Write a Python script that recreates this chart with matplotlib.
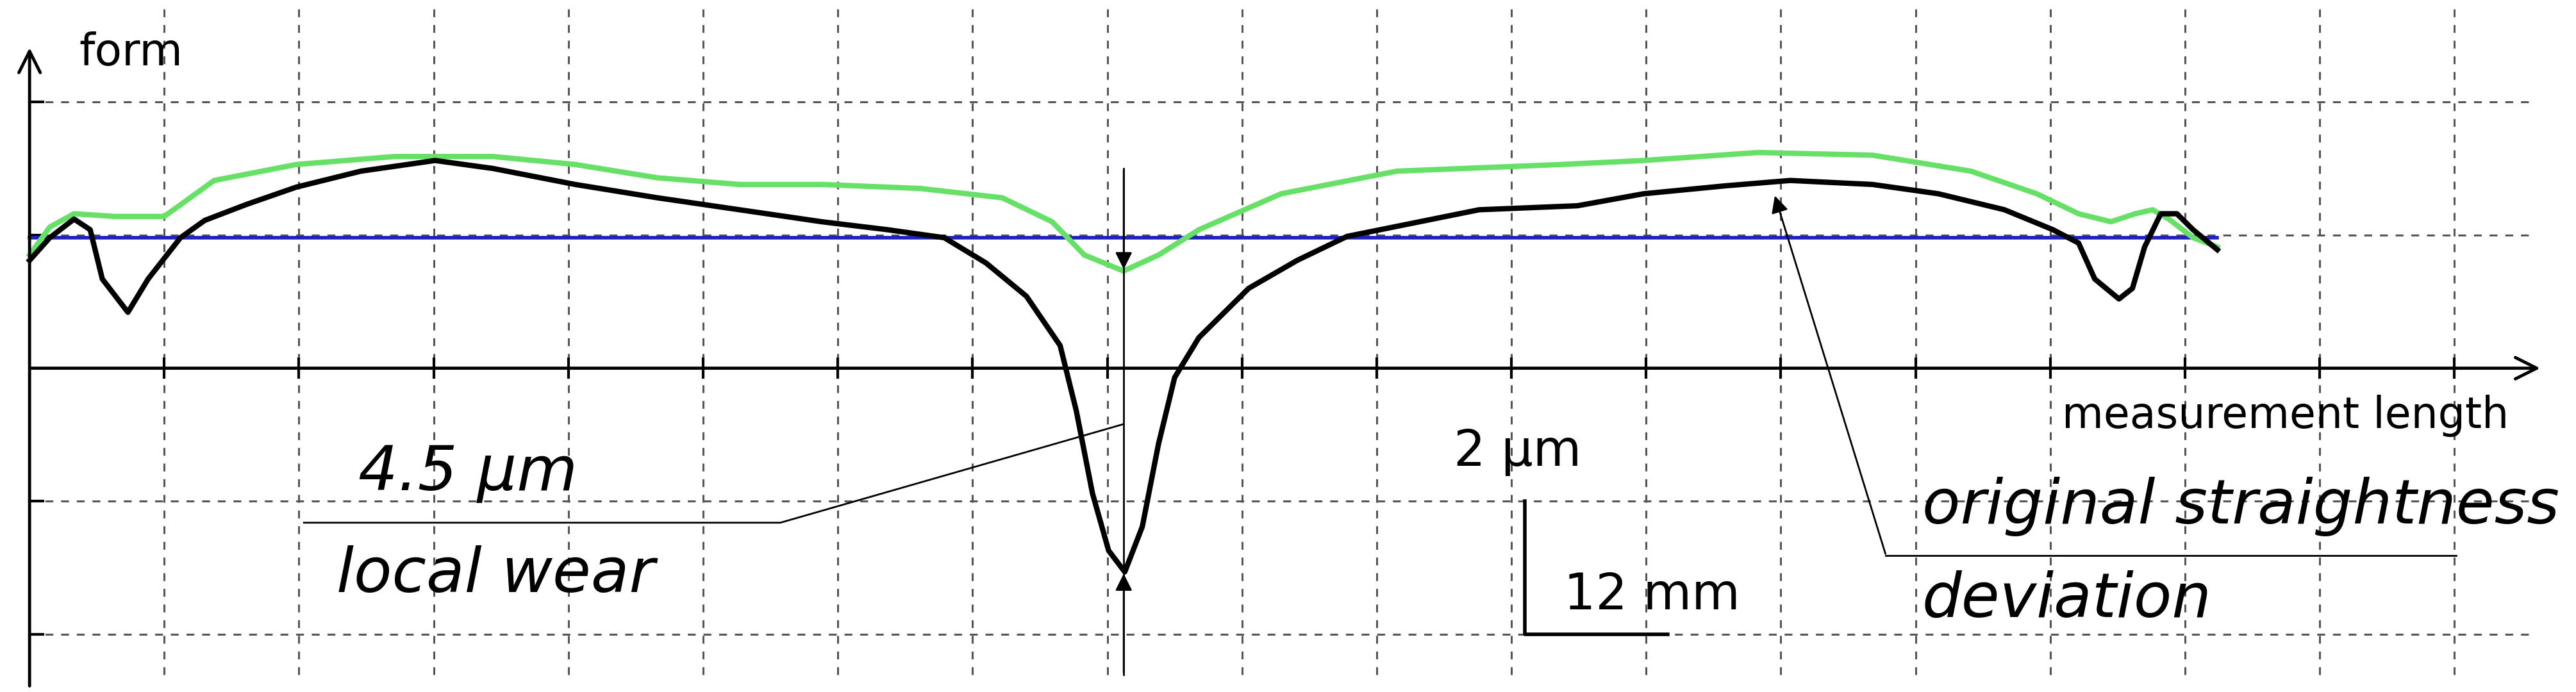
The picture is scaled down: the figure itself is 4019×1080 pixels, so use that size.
import matplotlib.pyplot as plt
import numpy as np

# values in grid units (1 unit = one dashed grid cell; x axis at y=0)
black_x = [0, 0.15, 0.33, 0.45, 0.54, 0.73, 0.88, 1.12, 1.3, 1.61, 1.98, 2.46, 3.01, 3.44, 4.05, 4.66,
           5.27, 5.88, 6.37, 6.79, 7.1, 7.4, 7.65, 7.77, 7.89, 8.01, 8.13, 8.26, 8.38, 8.5, 8.68,
           9.05, 9.41, 9.78, 10.27, 10.76, 11.49, 11.98, 12.59, 13.07, 13.68, 14.17, 14.66, 15.02,
           15.21, 15.33, 15.51, 15.61, 15.7, 15.82, 15.94, 16.06, 16.24]
black_y = [0.81, 0.98, 1.12, 1.04, 0.67, 0.42, 0.67, 0.98, 1.11, 1.23, 1.36, 1.48, 1.56, 1.5, 1.38, 1.28,
           1.19, 1.1, 1.04, 0.98, 0.79, 0.54, 0.17, -0.32, -0.94, -1.37, -1.53, -1.19, -0.57, -0.07, 0.23,
           0.6, 0.81, 0.99, 1.09, 1.19, 1.22, 1.31, 1.37, 1.41, 1.38, 1.31, 1.19, 1.04,
           0.94, 0.67, 0.52, 0.6, 0.91, 1.16, 1.16, 1.04, 0.89]
green_x = [0, 0.15, 0.33, 0.63, 1.0, 1.37, 1.98, 2.71, 3.44, 4.05, 4.66, 5.27, 5.88, 6.61, 7.22, 7.59,
           7.83, 8.12, 8.38, 8.68, 9.29, 10.15, 11.37, 11.98, 12.83, 13.68, 14.41, 14.9, 15.21, 15.45,
           15.63, 15.76, 15.88, 16.06, 16.24]
green_y = [0.85, 1.06, 1.16, 1.14, 1.14, 1.41, 1.53, 1.59, 1.59, 1.53, 1.43, 1.38, 1.38, 1.35, 1.28, 1.1,
           0.85, 0.73, 0.85, 1.04, 1.31, 1.48, 1.53, 1.56, 1.62, 1.6, 1.48, 1.31, 1.16, 1.1,
           1.16, 1.19, 1.12, 0.98, 0.91]
ref_level = 0.98

ITAL = dict(fontsize=70, style='italic', family=['Liberation Sans Narrow', 'DejaVu Sans'], va='center')

fig = plt.figure(figsize=(40.19, 10.8), dpi=100)
ax = fig.add_axes([0, 0, 1, 1])
ax.set_xlim(-18 / 82, 1550 / 82)
ax.set_ylim((224 - 421) / 81, 224 / 81)
ax.axis('off')

# dashed grid
for gx in range(1, 19):
    ax.plot([gx, gx], [-2.3, 2.7], color='#555555', ls=(0, (4, 4)), lw=2.2)
for gy in [-2, -1, 1, 2]:
    ax.plot([0, 18.6], [gy, gy], color='#555555', ls=(0, (4, 4)), lw=2.2)

# axes with arrows
ax.annotate('', xy=(18.65, 0), xytext=(0, 0), arrowprops=dict(arrowstyle='->', lw=3.5, mutation_scale=60))
ax.annotate('', xy=(0, 2.42), xytext=(0, -2.4), arrowprops=dict(arrowstyle='->', lw=3.5, mutation_scale=60))
for gx in range(1, 19):
    ax.plot([gx, gx], [-0.07, 0.07], color='black', lw=3)
for gy in [-2, -1, 1, 2]:
    ax.plot([0, 0.1], [gy, gy], color='black', lw=3)

ax.plot([0, 16.24], [ref_level, ref_level], color='#2020c0', lw=4)
ax.plot(green_x, green_y, color='#66e066', lw=6)
ax.plot(black_x, black_y, color='black', lw=6)

# wear marker
cx = (684 - 18) / 82
ax.plot([cx, cx], [1.5, -2.3], color='black', lw=2)
ax.annotate('', xy=(cx, 0.73), xytext=(cx, 1.5), arrowprops=dict(arrowstyle='-|>', color='black', lw=2, mutation_scale=40))
ax.annotate('', xy=(cx, -1.53), xytext=(cx, -2.3), arrowprops=dict(arrowstyle='-|>', color='black', lw=2, mutation_scale=40))

ax.plot([(185 - 18) / 82, (475 - 18) / 82, cx], [(224 - 318) / 81] * 2 + [(224 - 258) / 81], color='black', lw=2)
ax.text((218 - 18) / 82, (224 - 288) / 81, '4.5 μm', **ITAL)
ax.text((205 - 18) / 82, (224 - 350) / 81, 'local wear', **ITAL)

ax.plot([(1148 - 18) / 82, (1495 - 18) / 82], [(224 - 338) / 81] * 2, color='black', lw=2)
ax.annotate('', xy=((1080 - 18) / 82, (224 - 118) / 81), xytext=((1148 - 18) / 82, (224 - 338) / 81),
            arrowprops=dict(arrowstyle='-|>', color='black', lw=2, mutation_scale=40))
ax.text((1170 - 18) / 82, (224 - 308) / 81, 'original straightness', **ITAL)
ax.text((1170 - 18) / 82, (224 - 365) / 81, 'deviation', **ITAL)

# scale bar
sx = (928 - 18) / 82
ax.plot([sx, sx, sx + 87 / 82], [-1, -2, -2], color='black', lw=4)
ax.text((885 - 18) / 82, (224 - 275) / 81, '2 μm', fontsize=56, va='center')
ax.text((952 - 18) / 82, (224 - 362) / 81, '12 mm', fontsize=56, va='center')

ax.text((48 - 18) / 82, (224 - 32) / 81, 'form', fontsize=50, va='center')
ax.text((1255 - 18) / 82, (224 - 253) / 81, 'measurement length', fontsize=48, va='center')

fig.savefig('out.png', dpi=100)
